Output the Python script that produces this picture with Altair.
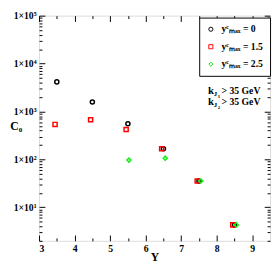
import altair as alt
import pandas as pd

# ---- data ----
series_names = ["yᶜₘₐₓ = 0", "yᶜₘₐₓ = 1.5", "yᶜₘₐₓ = 2.5"]
y0_x = [3.5, 4.5, 5.5, 6.5, 7.5, 8.5]
y0_c = [4150, 1580, 555, 167, 35.5, 4.3]
y15_x = [3.45, 4.45, 5.45, 6.45, 7.45, 8.45]
y15_c = [537, 673, 422, 167, 35.5, 4.3]
y25_x = [5.53, 6.55, 7.55, 8.55]
y25_c = [97, 106, 35.5, 4.3]

x_major = [3, 4, 5, 6, 7, 8, 9]
x_minor = [3.5, 4.5, 5.5, 6.5, 7.5, 8.5]
y_major = [10, 100, 1000, 10000, 100000]
y_minor = [m * 10 ** k for k in range(0, 5) for m in range(2, 10) if 2 <= m * 10 ** k < 1e5]

colors = ["#000000", "#ff0000", "#11ee11"]
shapes = ["circle", "square", "diamond"]

rows = []
for name, xs, cs in zip(series_names, [y0_x, y15_x, y25_x], [y0_c, y15_c, y25_c]):
    for xv, cv in zip(xs, cs):
        rows.append({"Y": xv, "C0": cv, "series": name})
df = pd.DataFrame(rows)

FONT = "Liberation Serif"
W, H = 238, 232

xscale = alt.Scale(domain=[3, 9.5], nice=False, zero=False)
yscale = alt.Scale(type="log", domain=[2, 1e5], nice=False)

def xax(orient, vals, size, labels=False, title=None, **kw):
    return alt.Axis(orient=orient, values=vals, tickSize=size, offset=-size,
                    labels=labels, title=title, domain=False, grid=False,
                    tickColor="black", tickWidth=1, **kw)

sup = "['⁰','¹','²','³','⁴','⁵'][round(log(datum.value)/LN10)]"

base = alt.Chart(df)

points = base.mark_point(filled=False, size=18, strokeWidth=1.5, opacity=1).encode(
    x=alt.X("Y:Q", scale=xscale,
            axis=xax("bottom", x_major, 6, labels=True, title="Y",
                     labelPadding=3, labelFont=FONT, labelFontSize=10,
                     labelFontWeight="bold", labelColor="black",
                     titleFont=FONT, titleFontSize=12, titleFontWeight="bold",
                     titleColor="black", titleX=119, titleY=22,
                     titleAlign="center", titleBaseline="middle")),
    y=alt.Y("C0:Q", scale=yscale,
            axis=xax("left", y_major, 6, labels=True, title="C₀",
                     labelPadding=3, labelFont=FONT, labelFontSize=10,
                     labelFontWeight="bold", labelColor="black",
                     labelExpr="'1×10' + " + sup,
                     titleFont=FONT, titleFontSize=12, titleFontWeight="bold",
                     titleColor="black", titleAngle=0, titleX=-30, titleY=113,
                     titleAlign="center", titleBaseline="middle")),
    color=alt.Color("series:N", scale=alt.Scale(domain=series_names, range=colors),
                    legend=alt.Legend(title=None, orient="none", legendX=165, legendY=2,
                                      labelFont=FONT, labelFontSize=10,
                                      labelFontWeight="bold", labelColor="black",
                                      symbolSize=18, symbolStrokeWidth=1,
                                      padding=7, rowPadding=8, labelOffset=6,
                                      strokeColor="black", fillColor="white",
                                      cornerRadius=0)),
    shape=alt.Shape("series:N", scale=alt.Scale(domain=series_names, range=shapes)),
)

def ghost(xaxis, yaxis):
    return base.mark_point(opacity=0).encode(
        x=alt.X("Y:Q", scale=xscale, axis=xaxis),
        y=alt.Y("C0:Q", scale=yscale, axis=yaxis),
    )

g1 = ghost(xax("top", x_major, 6), xax("right", y_major, 6))
g2 = ghost(xax("bottom", x_minor, 3), xax("left", y_minor, 3))
g3 = ghost(xax("top", x_minor, 3), xax("right", y_minor, 3))

def txt(text, x, y, size=10):
    return alt.Chart(pd.DataFrame({"t": [text]})).mark_text(
        font=FONT, fontSize=size, fontWeight="bold", color="black",
        align="left", baseline="alphabetic").encode(
        text="t:N", x=alt.value(x), y=alt.value(y))

notes = []
for i, yy in enumerate([81, 92]):
    notes += [txt("k", 174, yy, 11), txt("J", 180, yy + 2, 7),
              txt(str(i + 1), 184, yy + 4, 5), txt("> 35 GeV", 188, yy, 10)]

chart = alt.layer(points, g1, g2, g3, *notes).resolve_axis(
    x="independent", y="independent"
).properties(
    width=W, height=H,
    autosize=alt.AutoSizeParams(type="none"),
    padding={"left": 32, "top": 4, "right": 2, "bottom": 21},
).configure_view(stroke="black", strokeWidth=1.2).configure(font=FONT)

chart.save("out.html", embed_options={"renderer": "svg", "actions": False})
